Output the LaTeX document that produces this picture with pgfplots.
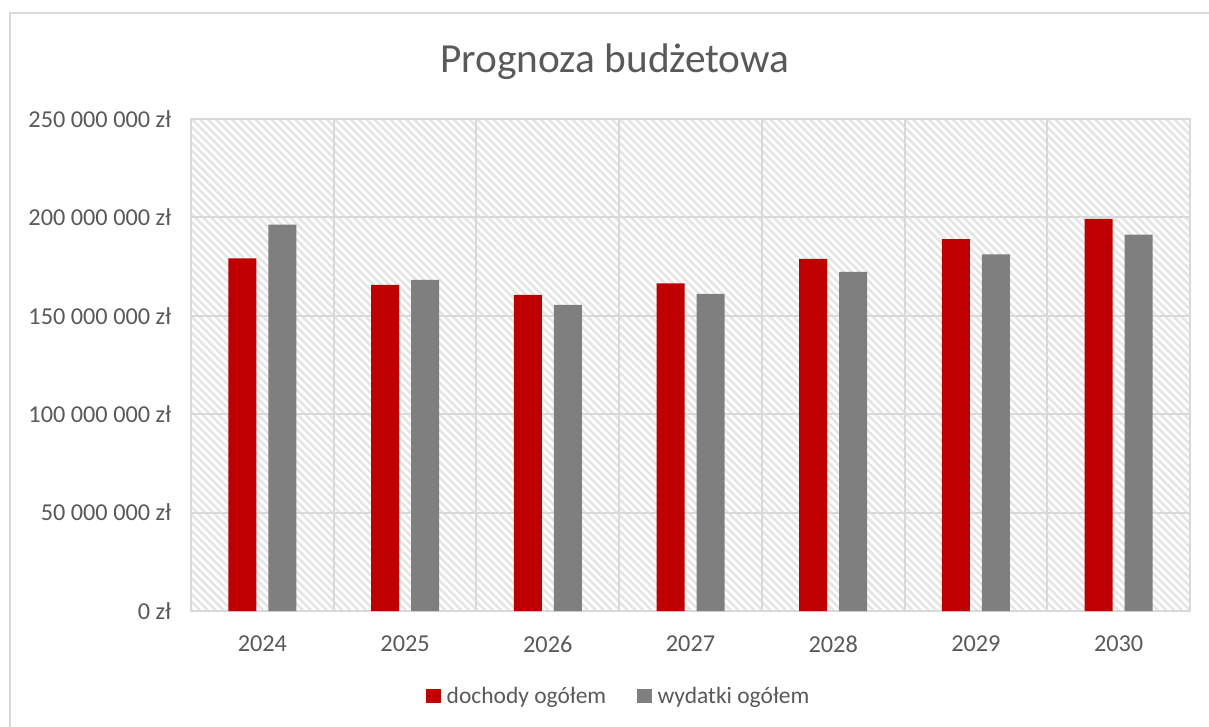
\documentclass[border=0pt]{standalone}
\usepackage{pgfplots}
\pgfplotsset{compat=1.18}
\usepackage{fontspec}
\setmainfont{Carlito}
\usetikzlibrary{patterns.meta}
\definecolor{barred}{RGB}{192,0,0}
\definecolor{bargray}{RGB}{127,127,127}
\definecolor{txt}{RGB}{89,89,89}
\definecolor{gridc}{RGB}{217,217,217}
\definecolor{hatchc}{RGB}{229,229,229}
\begin{document}
\begin{tikzpicture}
\useasboundingbox (0,0) rectangle (906.75pt,-545.25pt);
\draw[gridc, line width=1.2pt] (7.5pt,-545.25pt) -- (7.5pt,-9.75pt) -- (906.75pt,-9.75pt);
\node[text=txt, font=\fontsize{31}{36}\selectfont] at (461.25pt,-46.5pt) {Prognoza budżetowa};
\begin{axis}[
  at={(143.25pt,-458.25pt)}, anchor=south west,
  scale only axis, width=749.25pt, height=369pt,
  ybar=9pt, bar width=21pt,
  xmin=-0.5, xmax=6.5, ymin=0, ymax=250000000,
  xtick={0,1,2,3,4,5,6},
  xticklabels={2024,2025,2026,2027,2028,2029,2030},
  minor xtick={0.5,1.5,2.5,3.5,4.5,5.5},
  ytick={0,50000000,100000000,150000000,200000000,250000000},
  yticklabels={0 zł,50 000 000 zł,100 000 000 zł,150 000 000 zł,200 000 000 zł,250 000 000 zł},
  scaled y ticks=false,
  ymajorgrids, xminorgrids,
  major grid style={gridc, line width=1.5pt},
  minor grid style={gridc, line width=1.5pt},
  axis line style={gridc, line width=1.5pt},
  major tick length=0pt, minor tick length=0pt,
  tick label style={text=txt, font=\fontsize{18.2}{21}\selectfont},
  yticklabel style={xshift=-11.3pt},
  xticklabel style={yshift=-15pt},
  axis background/.style={pattern={Lines[angle=-45, distance=4.2pt, line width=2pt]}, pattern color=hatchc},
  legend style={at={(0.4284,-0.1728)}, anchor=center, draw=none, fill=none,
    font=\fontsize{17.6}{20}\selectfont, text=txt,
    /tikz/every odd column/.append style={column sep=2.5pt},
    /tikz/every even column/.append style={column sep=21pt}},
  legend columns=2,
  legend image code/.code={\fill[#1] (0pt,-5.5pt) rectangle (11pt,5.5pt);},
]
\addplot[fill=barred, draw=none] coordinates {
  (0,179200000) (1,165700000) (2,160600000) (3,166500000) (4,178900000) (5,189000000) (6,199200000)};
\addplot[fill=bargray, draw=none] coordinates {
  (0,196300000) (1,168200000) (2,155500000) (3,161100000) (4,172300000) (5,181200000) (6,191200000)};
\legend{dochody ogółem, wydatki ogółem}
\end{axis}
\end{tikzpicture}
\end{document}
